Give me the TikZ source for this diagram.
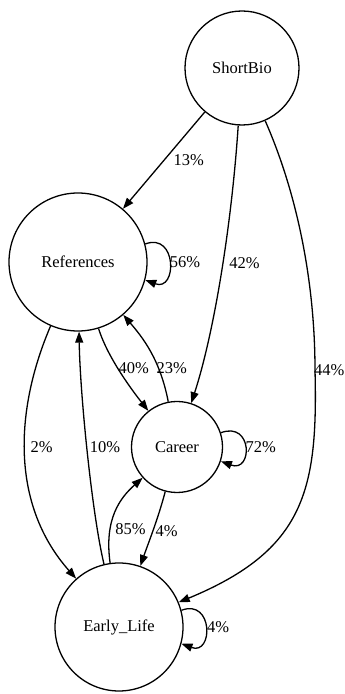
\documentclass[tikz,border=0pt]{standalone}
\usepackage{fontspec}
\setmainfont{Liberation Serif}
\usepackage{tikz}
\usetikzlibrary{arrows.meta}

\begin{document}
\begin{tikzpicture}[
    x=1pt, y=1pt,
    state/.style={draw, circle, line width=1.3pt, inner sep=0pt, font=\fontsize{16.5}{18}\selectfont},
    flow/.style={-{Triangle[length=11pt, width=8pt]}, line width=1.3pt},
    lbl/.style={inner sep=0pt, font=\fontsize{16.5}{18}\selectfont}
]
\useasboundingbox (0,0) rectangle (345,694);

\node[state, minimum size=114pt] (shortbio) at (242,626) {ShortBio};
\node[state, minimum size=138pt] (refs) at (78,432) {References};
\node[state, minimum size=91pt] (career) at (177,247) {Career};
\node[state, minimum size=128pt] (early) at (119,67) {Early\_Life};

\draw[flow] (shortbio) -- node[lbl, right=9pt] {13\%} (refs);
\draw[flow] (shortbio) .. controls (232,474) and (215,364) .. node[lbl, pos=0.47, right=6pt] {42\%} (career);
\draw[flow] (shortbio) .. controls (300,494) and (315,404) .. (315,324) node[lbl, right=-1.5pt] {44\%}
    .. controls (318,204) and (305,144) .. (early);

% self loops
\draw[flow] (refs.15) .. controls +(32,12) and +(32,-12) .. node[lbl, anchor=west] {56\%} (refs.-15);
\draw[flow] (career.18) .. controls +(32,12) and +(32,-12) .. node[lbl, anchor=west] {72\%} (career.-18);
\draw[flow] (early.15) .. controls +(32,12) and +(32,-12) .. node[lbl, anchor=west, xshift=1pt] {4\%} (early.-15);

\draw[flow] (refs) .. controls (108,335) and (135,300) .. node[lbl, pos=0.42, right=0.5pt] {40\%} (career);
\draw[flow] (career) .. controls (160,335) and (142.5,356.7) .. node[lbl, pos=0.3, right=-2.5pt] {23\%} (refs);
\draw[flow] (refs) .. controls (15,285) and (10,190) .. node[lbl, pos=0.47, right=5pt] {2\%} (early);
\draw[flow] (early) .. controls (92,180) and (80,300) .. node[lbl, pos=0.52, right=2.5pt] {10\%} (refs);
\draw[flow] (early) .. controls (104,175) and (120,196) .. node[lbl, pos=0.3, right=4.5pt] {85\%} (career);
\draw[flow] (career) .. controls (158,175) and (148,150) .. node[lbl, pos=0.5, right=2pt] {4\%} (early);
\end{tikzpicture}
\end{document}
